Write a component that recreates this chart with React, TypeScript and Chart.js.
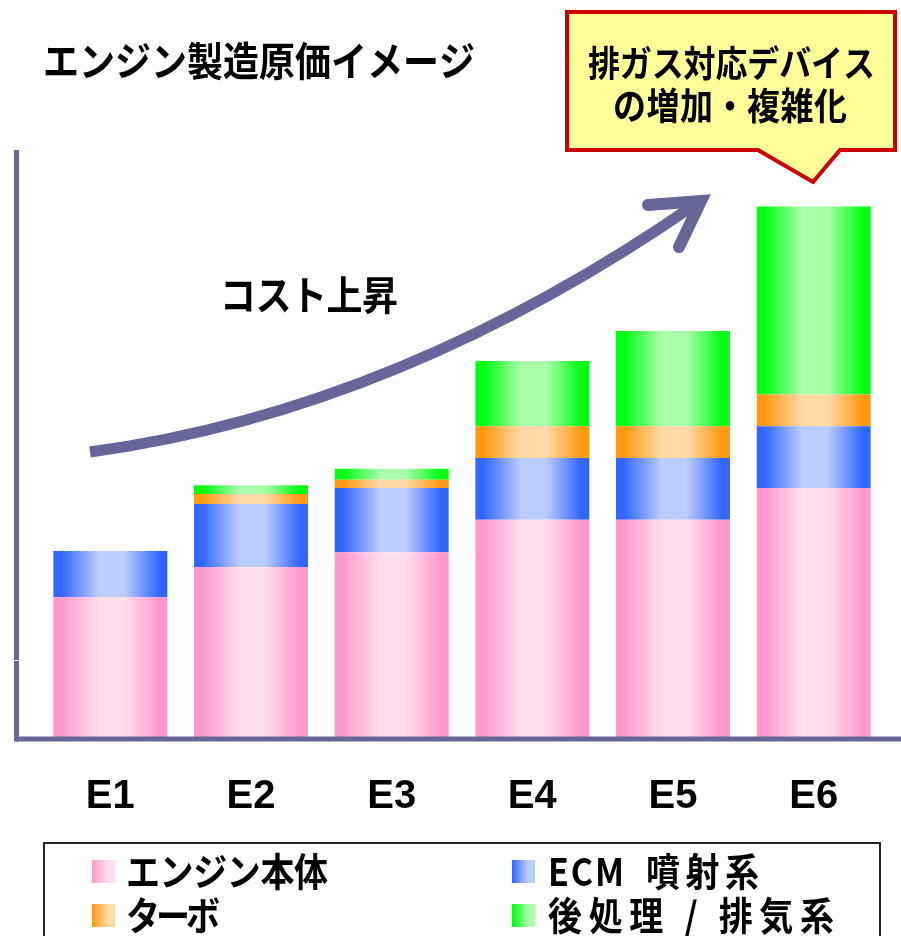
import React, { useEffect, useRef } from "react";
import { Chart, registerables } from "chart.js";

Chart.register(...registerables);

// ---------- data ----------
const categories = ["E1", "E2", "E3", "E4", "E5", "E6"];
const engineBody = [24.0, 29.1, 31.6, 37.1, 37.1, 42.5];
const ecmInjection = [7.8, 10.7, 10.9, 10.5, 10.5, 10.5];
const turbo = [0, 1.7, 1.4, 5.4, 5.4, 5.4];
const afterTreatment = [0, 1.5, 1.9, 11.1, 16.2, 32.0];
const seriesNames = ["エンジン本体", "ECM 噴射系", "ターボ", "後処理 / 排気系"];
const yMax = 100;
const titleText = "エンジン製造原価イメージ";
const arrowText = "コスト上昇";
const calloutLines = ["排ガス対応デバイス", "の増加・複雑化"];

// ---------- styles ----------
const palette = [
  { edge: "#FF99CC", light: "#FFDDEE" },
  { edge: "#3366FF", light: "#BBCCFF" },
  { edge: "#FF9911", light: "#FFDAA6" },
  { edge: "#00FF11", light: "#AAFFAA" },
];
const CAT_PCT = 0.81;
const AXIS = "#666699";
const JP = '"Noto Sans CJK JP", "Noto Sans", sans-serif';

function barGradient(i: number) {
  return (c: any) => {
    const chart = c.chart;
    const xs = chart.scales && chart.scales.x;
    if (!chart.chartArea || !xs || c.dataIndex == null) return palette[i].edge;
    const cx = xs.getPixelForValue(c.dataIndex);
    const w = (xs.width / categories.length) * CAT_PCT;
    const g = chart.ctx.createLinearGradient(cx - w / 2, 0, cx + w / 2, 0);
    g.addColorStop(0, palette[i].edge);
    g.addColorStop(0.07, palette[i].edge);
    g.addColorStop(0.4, palette[i].light);
    g.addColorStop(0.62, palette[i].light);
    g.addColorStop(0.93, palette[i].edge);
    g.addColorStop(1, palette[i].edge);
    return g;
  };
}

function fitText(
  ctx: CanvasRenderingContext2D,
  text: string,
  x: number,
  y: number,
  font: string,
  targetW: number,
  sy = 1.12
) {
  ctx.save();
  ctx.font = font;
  (ctx as any).letterSpacing = "0px";
  const w = ctx.measureText(text).width;
  const n = Array.from(text).length;
  const ls = n > 1 ? (targetW - w) / (n - 1) : 0;
  (ctx as any).letterSpacing = ls.toFixed(2) + "px";
  ctx.textAlign = "left";
  ctx.textBaseline = "middle";
  ctx.fillStyle = "#000";
  ctx.translate(x, y);
  ctx.scale(1, sy);
  ctx.fillText(text, 0, 0);
  ctx.restore();
}

const decorPlugin = {
  id: "decor",
  afterDraw(chart: any) {
    const ctx: CanvasRenderingContext2D = chart.ctx;
    const area = chart.chartArea;
    const xs = chart.scales.x;
    ctx.save();

    // axes
    ctx.strokeStyle = AXIS;
    ctx.lineWidth = 5;
    ctx.beginPath();
    ctx.moveTo(16.5, area.top);
    ctx.lineTo(16.5, area.bottom + 3.5);
    ctx.stroke();
    ctx.beginPath();
    ctx.moveTo(16, area.bottom + 1);
    ctx.lineTo(901, area.bottom + 1);
    ctx.stroke();
    ctx.fillStyle = "#fff";
    ctx.fillRect(14, 660, 5, 1);

    // category labels
    ctx.fillStyle = "#000";
    ctx.font = 'bold 40px "Liberation Sans", Arial, sans-serif';
    ctx.textAlign = "center";
    ctx.textBaseline = "alphabetic";
    categories.forEach((lab, i) => {
      ctx.fillText(lab, xs.getPixelForValue(i), 808);
    });

    // title
    fitText(ctx, titleText, 43, 61, `bold 36px ${JP}`, 432);

    // arrow
    ctx.strokeStyle = AXIS;
    ctx.lineWidth = 11;
    ctx.lineCap = "butt";
    ctx.beginPath();
    ctx.moveTo(90, 452);
    ctx.quadraticCurveTo(400, 410, 700, 201);
    ctx.stroke();
    ctx.lineWidth = 12;
    ctx.lineCap = "round";
    ctx.lineJoin = "miter";
    ctx.beginPath();
    ctx.moveTo(648, 205);
    ctx.lineTo(701, 201);
    ctx.lineTo(679, 247);
    ctx.stroke();

    fitText(ctx, arrowText, 220, 295, `bold 36px ${JP}`, 178);

    // callout
    ctx.beginPath();
    ctx.moveTo(567, 12);
    ctx.lineTo(895, 12);
    ctx.lineTo(895, 150);
    ctx.lineTo(840, 150);
    ctx.lineTo(813, 182);
    ctx.lineTo(758, 150);
    ctx.lineTo(567, 150);
    ctx.closePath();
    ctx.fillStyle = "#FFFF99";
    ctx.fill();
    ctx.strokeStyle = "#CC0000";
    ctx.lineWidth = 4;
    ctx.lineJoin = "miter";
    ctx.stroke();
    fitText(ctx, calloutLines[0], 588, 63, `bold 32px ${JP}`, 287);
    fitText(ctx, calloutLines[1], 613, 106, `bold 33px ${JP}`, 234);

    // legend
    ctx.strokeStyle = "#222";
    ctx.lineWidth = 2;
    ctx.strokeRect(44, 843, 836, 200);
    const items = [
      { s: 0, x: 92, y: 872, parts: [{ t: seriesNames[0], x: 126, w: 202 }] },
      {
        s: 1,
        x: 512,
        y: 872,
        parts: [
          { t: seriesNames[1].split(" ")[0], x: 548, w: 76 },
          { t: seriesNames[1].split(" ")[1], x: 646, w: 113 },
        ],
      },
      { s: 2, x: 92, y: 916, parts: [{ t: seriesNames[2], x: 126, w: 94 }] },
      { s: 3, x: 512, y: 916, parts: [{ t: seriesNames[3], x: 548, w: 286 }] },
    ];
    items.forEach((it) => {
      const p = palette[it.s];
      const g = ctx.createLinearGradient(it.x, 0, it.x + 23, 0);
      g.addColorStop(0, p.edge);
      g.addColorStop(0.7, p.light);
      g.addColorStop(1, p.light);
      ctx.fillStyle = g;
      ctx.fillRect(it.x, it.y - 12, 23, 23);
      it.parts.forEach((pt) => fitText(ctx, pt.t, pt.x, it.y, `bold 34px ${JP}`, pt.w));
    });

    ctx.restore();
  },
};

export default function App() {
  const ref = useRef<HTMLCanvasElement | null>(null);
  useEffect(() => {
    document.body.style.margin = "0";
    const canvas = ref.current;
    if (!canvas) return;
    const seriesData = [engineBody, ecmInjection, turbo, afterTreatment];
    const chart = new Chart(canvas, {
      type: "bar",
      data: {
        labels: categories,
        datasets: seriesData.map((d, i) => ({
          label: seriesNames[i],
          data: d,
          backgroundColor: barGradient(i),
          borderWidth: 0,
          categoryPercentage: CAT_PCT,
          barPercentage: 1,
        })),
      },
      options: {
        animation: false,
        responsive: false,
        devicePixelRatio: 1,
        layout: { padding: { left: 40, right: 17, top: 150, bottom: 198 } },
        plugins: { legend: { display: false }, tooltip: { enabled: false } },
        scales: {
          x: { display: false, stacked: true },
          y: { display: false, stacked: true, min: 0, max: yMax },
        },
      },
      plugins: [decorPlugin],
    } as any);
    return () => chart.destroy();
  }, []);
  return (
    <div style={{ width: 901, height: 936, background: "#fff" }}>
      <canvas ref={ref} width={901} height={936} style={{ display: "block", width: 901, height: 936 }} />
    </div>
  );
}
